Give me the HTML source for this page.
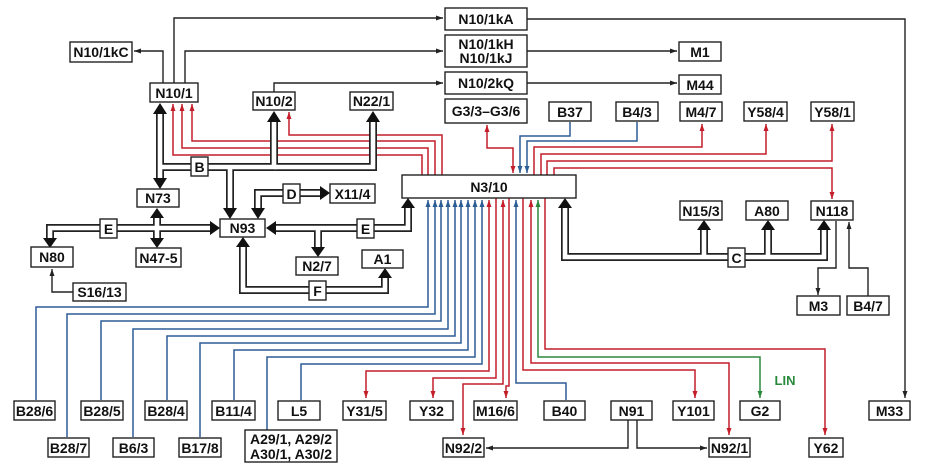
<!DOCTYPE html>
<html><head><meta charset="utf-8"><style>
html,body{margin:0;padding:0;background:#fff;}
svg{display:block;}
text{font-family:"Liberation Sans",sans-serif;font-weight:bold;font-size:14px;text-anchor:middle;fill:#111;}
.b{fill:#fff;stroke:#222;stroke-width:1.4;}
.k{fill:none;stroke:#222;stroke-width:1.4;}
.r{fill:none;stroke:#c41e2a;stroke-width:1.5;}
.u{fill:none;stroke:#2d5d95;stroke-width:1.5;}
.g{fill:none;stroke:#2a8a3c;stroke-width:1.5;}
.bo{fill:none;stroke:#222;stroke-width:8;}
.bi{fill:none;stroke:#fff;stroke-width:4.6;}
</style></head><body>
<svg width="939" height="470" viewBox="0 0 939 470" xmlns="http://www.w3.org/2000/svg">
<defs>
<marker id="ak" markerUnits="userSpaceOnUse" markerWidth="8" markerHeight="6" refX="7" refY="3" orient="auto-start-reverse"><path d="M0,0.5 L7,3 L0,5.5z" fill="#222"/></marker>
<marker id="ar" markerUnits="userSpaceOnUse" markerWidth="8" markerHeight="6" refX="7" refY="3" orient="auto-start-reverse"><path d="M0,0.5 L7,3 L0,5.5z" fill="#c41e2a"/></marker>
<marker id="au" markerUnits="userSpaceOnUse" markerWidth="8" markerHeight="6" refX="7" refY="3" orient="auto-start-reverse"><path d="M0,0.5 L7,3 L0,5.5z" fill="#2d5d95"/></marker>
<marker id="ag" markerUnits="userSpaceOnUse" markerWidth="8" markerHeight="6" refX="7" refY="3" orient="auto-start-reverse"><path d="M0,0.5 L7,3 L0,5.5z" fill="#2a8a3c"/></marker>
</defs>

<path class="k" d="M174,83 V18 H443" marker-end="url(#ak)"/>
<path class="k" d="M185,83 V51 H443" marker-end="url(#ak)"/>
<path class="k" d="M163,83 V51 H134" marker-end="url(#ak)"/>
<path class="k" d="M274,92 V83 H443" marker-end="url(#ak)"/>
<path class="k" d="M527,19 H905 V398" marker-end="url(#ak)"/>
<path class="k" d="M527,51 H677" marker-end="url(#ak)"/>
<path class="k" d="M527,83 H677" marker-end="url(#ak)"/>
<path class="k" d="M836,221 V268 H818 V295" marker-end="url(#ak)"/>
<path class="k" d="M868,297 V268 H849 V222" marker-end="url(#ak)"/>
<path class="k" d="M73,292 H52 V269" marker-end="url(#ak)"/>
<path class="k" d="M628,420 V448 H486" marker-end="url(#ak)"/>
<path class="k" d="M637,420 V448 H707" marker-end="url(#ak)"/>

<path class="r" d="M422,175 V155 H173 V104" marker-end="url(#ar)"/>
<path class="r" d="M428,175 V148 H182 V104" marker-end="url(#ar)"/>
<path class="r" d="M435,175 V141 H192 V104" marker-end="url(#ar)"/>
<path class="r" d="M442,175 V135 H289 V112" marker-end="url(#ar)"/>
<path class="r" d="M487,125 V148 H513 V173" marker-start="url(#ar)" marker-end="url(#ar)"/>
<path class="u" d="M570,122 V136 H520 V173" marker-end="url(#au)"/>
<path class="u" d="M637,122 V141 H527 V173" marker-end="url(#au)"/>
<path class="r" d="M534,175 V147 H702 V124" marker-end="url(#ar)"/>
<path class="r" d="M541,175 V154 H766 V124" marker-end="url(#ar)"/>
<path class="r" d="M547,175 V161 H832 V124" marker-end="url(#ar)"/>
<path class="r" d="M554,175 V168 H832 V199" marker-end="url(#ar)"/>

<path class="u" d="M36,400 V307 H428 V200" marker-end="url(#au)"/>
<path class="u" d="M67,437 V314 H435 V200" marker-end="url(#au)"/>
<path class="u" d="M101,400 V321 H441 V200" marker-end="url(#au)"/>
<path class="u" d="M133,437 V329 H448 V200" marker-end="url(#au)"/>
<path class="u" d="M167,400 V336 H455 V200" marker-end="url(#au)"/>
<path class="u" d="M200,437 V343 H461 V200" marker-end="url(#au)"/>
<path class="u" d="M234,400 V350 H468 V200" marker-end="url(#au)"/>
<path class="u" d="M267,430 V357 H475 V200" marker-end="url(#au)"/>
<path class="u" d="M301,400 V364 H482 V200" marker-end="url(#au)"/>
<path class="r" d="M489,200 V371 H366 V398" marker-start="url(#ar)" marker-end="url(#ar)"/>
<path class="r" d="M496,198 V378 H433 V398" marker-end="url(#ar)"/>
<path class="r" d="M503,200 V384 H463 V435" marker-start="url(#ar)" marker-end="url(#ar)"/>
<path class="r" d="M509,198 V386 H506 V398" marker-end="url(#ar)"/>
<path class="u" d="M566,400 V383 H516 V200" marker-end="url(#au)"/>
<path class="r" d="M523,198 V370 H695 V398" marker-end="url(#ar)"/>
<path class="r" d="M531,200 V363 H729 V435" marker-start="url(#ar)" marker-end="url(#ar)"/>
<path class="g" d="M760,398 V357 H538 V200" marker-start="url(#ag)" marker-end="url(#ag)"/>
<path class="r" d="M545,198 V349 H825 V435" marker-end="url(#ar)"/>
<text x="785" y="385" style="fill:#2a8a3c;font-size:13px">LIN</text>

<g>
<path class="bo" d="M160,112 V180"/>
<path class="bo" d="M274,120 V167 H160"/>
<path class="bo" d="M373,120 V167 H274"/>
<path class="bo" d="M230,167 V210"/>
<path class="bo" d="M258,210 V193 H322"/>
<path class="bo" d="M212,228 H50 V240"/>
<path class="bo" d="M157,216 V240"/>
<path class="bo" d="M273,228 H408 V206"/>
<path class="bo" d="M318,228 V249"/>
<path class="bo" d="M243,245 V290 H385 V276"/>
<path class="bo" d="M565,206 V257 H824 V228"/>
<path class="bo" d="M704,257 V228"/>
<path class="bo" d="M768,257 V228"/>
<path class="bi" d="M160,112 V180"/>
<path class="bi" d="M274,120 V167 H160"/>
<path class="bi" d="M373,120 V167 H274"/>
<path class="bi" d="M230,167 V210"/>
<path class="bi" d="M258,210 V193 H322"/>
<path class="bi" d="M212,228 H50 V240"/>
<path class="bi" d="M157,216 V240"/>
<path class="bi" d="M273,228 H408 V206"/>
<path class="bi" d="M318,228 V249"/>
<path class="bi" d="M243,245 V290 H385 V276"/>
<path class="bi" d="M565,206 V257 H824 V228"/>
<path class="bi" d="M704,257 V228"/>
<path class="bi" d="M768,257 V228"/>
</g>
<g fill="#111">
<path d="M153,114 L167,114 L160,103z"/>
<path d="M153,178 L167,178 L160,189z"/>
<path d="M267,122 L281,122 L274,111z"/>
<path d="M366,122 L380,122 L373,111z"/>
<path d="M223,208 L237,208 L230,219z"/>
<path d="M251,208 L265,208 L258,219z"/>
<path d="M320,186 L320,200 L330,193z"/>
<path d="M43,238 L57,238 L50,248z"/>
<path d="M150,218 L164,218 L157,208z"/>
<path d="M150,238 L164,238 L157,248z"/>
<path d="M210,221 L210,235 L220,228z"/>
<path d="M276,221 L276,235 L266,228z"/>
<path d="M311,247 L325,247 L318,257z"/>
<path d="M401,208 L415,208 L408,198z"/>
<path d="M236,247 L250,247 L243,237z"/>
<path d="M378,278 L392,278 L385,268z"/>
<path d="M558,208 L572,208 L565,198z"/>
<path d="M697,230 L711,230 L704,220z"/>
<path d="M761,230 L775,230 L768,220z"/>
<path d="M817,230 L831,230 L824,220z"/>
</g>
<g>
<rect class="b" x="191" y="157" width="17" height="19"/><text x="199.5" y="172">B</text>
<rect class="b" x="283" y="184" width="17" height="19"/><text x="291.5" y="199">D</text>
<rect class="b" x="100" y="219" width="17" height="19"/><text x="108.5" y="234">E</text>
<rect class="b" x="357" y="219" width="17" height="19"/><text x="365.5" y="234">E</text>
<rect class="b" x="309" y="281" width="17" height="19"/><text x="317.5" y="296">F</text>
<rect class="b" x="728" y="248" width="17" height="19"/><text x="736.5" y="263">C</text>
</g>

<g>
<rect class="b" x="445" y="8" width="82" height="22"/><text x="486" y="24">N10/1kA</text>
<rect class="b" x="445" y="35" width="82" height="32"/><text x="486" y="49">N10/1kH</text><text x="486" y="63">N10/1kJ</text>
<rect class="b" x="445" y="72" width="82" height="22"/><text x="486" y="88">N10/2kQ</text>
<rect class="b" x="445" y="99" width="82" height="24"/><text x="486" y="116">G3/3–G3/6</text>
<rect class="b" x="679" y="42" width="42" height="19"/><text x="700" y="57">M1</text>
<rect class="b" x="679" y="75" width="42" height="19"/><text x="700" y="90">M44</text>
<rect class="b" x="549" y="102" width="42" height="19"/><text x="570" y="117">B37</text>
<rect class="b" x="616" y="102" width="42" height="19"/><text x="637" y="117">B4/3</text>
<rect class="b" x="680" y="102" width="42" height="19"/><text x="701" y="117">M4/7</text>
<rect class="b" x="744" y="102" width="43" height="19"/><text x="765.5" y="117">Y58/4</text>
<rect class="b" x="811" y="102" width="43" height="19"/><text x="832.5" y="117">Y58/1</text>
<rect class="b" x="70" y="42" width="62" height="20"/><text x="101" y="57">N10/1kC</text>
<rect class="b" x="150" y="83" width="48" height="19"/><text x="174" y="98">N10/1</text>
<rect class="b" x="253" y="92" width="42" height="18"/><text x="274" y="106">N10/2</text>
<rect class="b" x="350" y="92" width="43" height="18"/><text x="371.5" y="106">N22/1</text>
<rect class="b" x="402" y="175" width="174" height="23"/><text x="489" y="192">N3/10</text>
<rect class="b" x="137" y="189" width="42" height="18"/><text x="158" y="203">N73</text>
<rect class="b" x="330" y="184" width="45" height="19"/><text x="352.5" y="199">X11/4</text>
<rect class="b" x="220" y="219" width="45" height="18"/><text x="242.5" y="233">N93</text>
<rect class="b" x="31" y="247" width="42" height="20"/><text x="52" y="262">N80</text>
<rect class="b" x="136" y="248" width="45" height="19"/><text x="158.5" y="263">N47-5</text>
<rect class="b" x="296" y="257" width="42" height="18"/><text x="317" y="271">N2/7</text>
<rect class="b" x="362" y="250" width="41" height="18"/><text x="382.5" y="264">A1</text>
<rect class="b" x="73" y="283" width="53" height="18"/><text x="99.5" y="297">S16/13</text>
<rect class="b" x="680" y="201" width="42" height="19"/><text x="701" y="216">N15/3</text>
<rect class="b" x="746" y="201" width="42" height="19"/><text x="767" y="216">A80</text>
<rect class="b" x="811" y="201" width="42" height="19"/><text x="832" y="216">N118</text>
<rect class="b" x="797" y="296" width="43" height="19"/><text x="818.5" y="311">M3</text>
<rect class="b" x="847" y="296" width="42" height="19"/><text x="868" y="311">B4/7</text>

<rect class="b" x="14" y="401" width="41" height="19"/><text x="34.5" y="416">B28/6</text>
<rect class="b" x="81" y="401" width="42" height="19"/><text x="102" y="416">B28/5</text>
<rect class="b" x="145" y="401" width="42" height="19"/><text x="166" y="416">B28/4</text>
<rect class="b" x="212" y="401" width="43" height="19"/><text x="233.5" y="416">B11/4</text>
<rect class="b" x="278" y="401" width="42" height="19"/><text x="299" y="416">L5</text>
<rect class="b" x="343" y="401" width="43" height="19"/><text x="364.5" y="416">Y31/5</text>
<rect class="b" x="410" y="401" width="43" height="19"/><text x="431.5" y="416">Y32</text>
<rect class="b" x="474" y="401" width="43" height="19"/><text x="495.5" y="416">M16/6</text>
<rect class="b" x="544" y="401" width="41" height="19"/><text x="564.5" y="416">B40</text>
<rect class="b" x="611" y="401" width="41" height="19"/><text x="631.5" y="416">N91</text>
<rect class="b" x="673" y="401" width="41" height="19"/><text x="693.5" y="416">Y101</text>
<rect class="b" x="740" y="401" width="40" height="19"/><text x="760" y="416">G2</text>
<rect class="b" x="869" y="401" width="41" height="19"/><text x="889.5" y="416">M33</text>
<rect class="b" x="48" y="438" width="41" height="19"/><text x="68.5" y="453">B28/7</text>
<rect class="b" x="113" y="438" width="41" height="19"/><text x="133.5" y="453">B6/3</text>
<rect class="b" x="179" y="438" width="42" height="19"/><text x="200" y="453">B17/8</text>
<rect class="b" x="245" y="430" width="92" height="32"/><text x="291" y="444">A29/1, A29/2</text><text x="291" y="459">A30/1, A30/2</text>
<rect class="b" x="443" y="438" width="41" height="19"/><text x="463.5" y="453">N92/2</text>
<rect class="b" x="709" y="438" width="41" height="19"/><text x="729.5" y="453">N92/1</text>
<rect class="b" x="809" y="438" width="34" height="19"/><text x="826" y="453">Y62</text>
</g>
</svg>
</body></html>
